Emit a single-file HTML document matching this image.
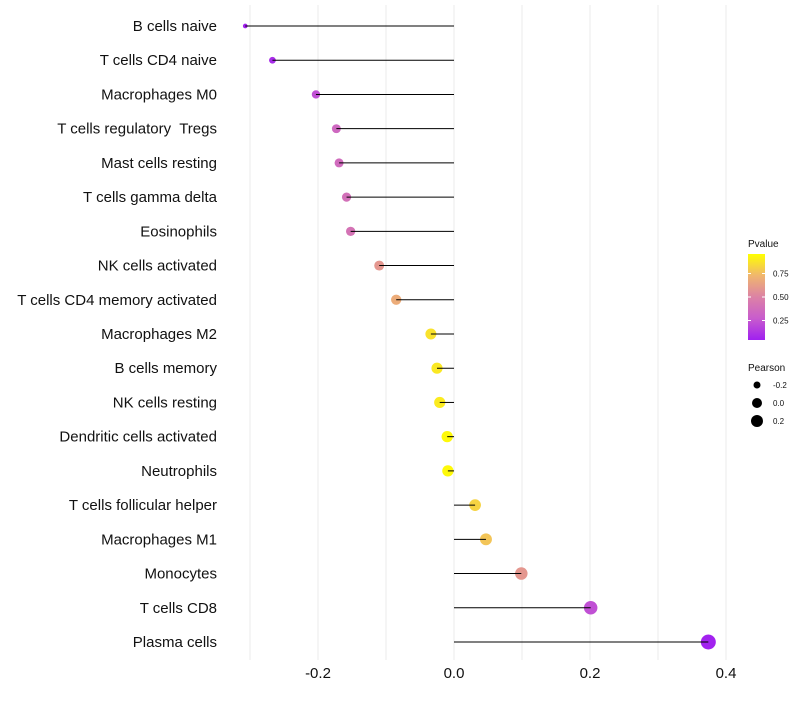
<!DOCTYPE html>
<html><head><meta charset="utf-8"><style>
body{margin:0;background:#fff;font-family:"Liberation Sans",sans-serif}
text{white-space:pre}
</style></head><body>
<svg id="chart" width="800" height="700" xmlns="http://www.w3.org/2000/svg" font-family="Liberation Sans, sans-serif"></svg>
<script>
const categories=["B cells naive","T cells CD4 naive","Macrophages M0","T cells regulatory  Tregs","Mast cells resting","T cells gamma delta","Eosinophils","NK cells activated","T cells CD4 memory activated","Macrophages M2","B cells memory","NK cells resting","Dendritic cells activated","Neutrophils","T cells follicular helper","Macrophages M1","Monocytes","T cells CD8","Plasma cells"];
const pearson=[-0.307,-0.267,-0.203,-0.173,-0.169,-0.158,-0.152,-0.110,-0.085,-0.034,-0.025,-0.021,-0.010,-0.009,0.031,0.047,0.099,0.201,0.374];
const pvalue=[0.01,0.05,0.2,0.33,0.35,0.38,0.4,0.6,0.7,0.9,0.92,0.93,0.98,0.98,0.85,0.8,0.6,0.2,0.01];
const xTicks=[-0.2,0.0,0.2,0.4];
const xTickLabels=["-0.2","0.0","0.2","0.4"];
const gridVals=[-0.3,-0.2,-0.1,0,0.1,0.2,0.3,0.4];
const legendP=[0.75,0.50,0.25];
const legendPearson=[-0.2,0.0,0.2];

const svg=document.getElementById('chart');const NS='http://www.w3.org/2000/svg';
function mk(t,a,p){const e=document.createElementNS(NS,t);for(const k in a)e.setAttribute(k,a[k]);(p||svg).appendChild(e);return e;}
const xS=v=>454+v*680;
const yS=i=>26+i*(616/18);
const rS=v=>2+5.5*Math.sqrt(Math.max(0,(v+0.31)/0.684));
const stops=[[0,[160,32,240]],[0.25,[200,92,205]],[0.5,[220,130,165]],[0.75,[240,182,110]],[1,[255,255,0]]];
function col(p){p=Math.max(0,Math.min(1,p));for(let i=1;i<stops.length;i++){if(p<=stops[i][0]){const a=stops[i-1],b=stops[i],t=(p-a[0])/(b[0]-a[0]);return 'rgb('+a[1].map((c,j)=>Math.round(c+(b[1][j]-c)*t)).join(',')+')';}}return 'rgb(255,255,0)';}

gridVals.forEach(v=>{const g=mk('line',{x1:xS(v),x2:xS(v),y1:5,y2:660,stroke:'#ebebeb','stroke-width':1});

});
xTicks.forEach((v,i)=>{const t=mk('text',{x:xS(v),y:678,'font-size':15,'text-anchor':'middle',fill:'#111'});t.textContent=xTickLabels[i];

});
categories.forEach((c,i)=>{const y=yS(i);
const t=mk('text',{x:217,y:y+5,'font-size':15,'text-anchor':'end',fill:'#111'});t.textContent=c;


const pt=mk('circle',{cx:xS(pearson[i]),cy:y,r:rS(pearson[i]),fill:col(pvalue[i])});


const s=mk('line',{x1:xS(pearson[i]),x2:xS(0),y1:y,y2:y,stroke:'#000','stroke-width':1});

});

const lt=mk('text',{x:748,y:247,'font-size':10,fill:'#111'});lt.textContent='Pvalue';


const defs=mk('defs',{});const gr=mk('linearGradient',{id:'pg',x1:0,y1:1,x2:0,y2:0},defs);
stops.forEach(s=>mk('stop',{offset:s[0],'stop-color':col(s[0])},gr));
const pToY=p=>297-(p-0.5)*94;
const bar=mk('rect',{x:748,y:254,width:17,height:86,fill:'url(#pg)'});


legendP.forEach(p=>{const y=pToY(p);mk('line',{x1:748,x2:751,y1:y,y2:y,stroke:'#fff'});mk('line',{x1:762,x2:765,y1:y,y2:y,stroke:'#fff'});
const t=mk('text',{x:773,y:y+3,'font-size':8,fill:'#111'});t.textContent=p.toFixed(2);

});
const st=mk('text',{x:748,y:371,'font-size':10,fill:'#111'});st.textContent='Pearson';


const legR=[3.5,5,6];
legendPearson.forEach((v,i)=>{const y=385+i*18;const c=mk('circle',{cx:757,cy:y,r:legR[i],fill:'#000'});


const t=mk('text',{x:773,y:y+3,'font-size':8,fill:'#111'});t.textContent=v.toFixed(1);

});
</script>
</body></html>
